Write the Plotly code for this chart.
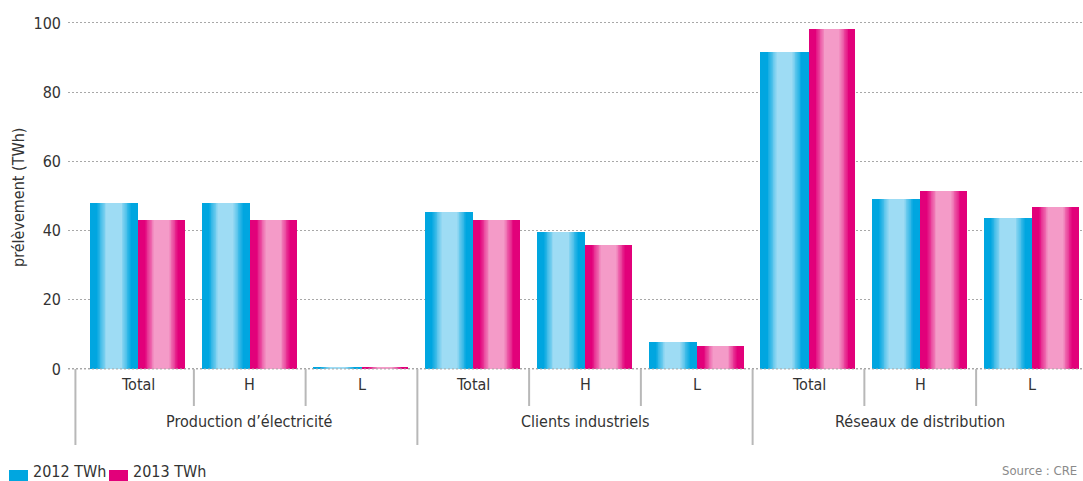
import numpy as np
import plotly.graph_objects as go

# --- data -------------------------------------------------------------
groups = ["Production d’électricité", "Clients industriels", "Réseaux de distribution"]
categories = ["Total", "H", "L", "Total", "H", "L", "Total", "H", "L"]
values_2012 = [48.0, 48.0, 0.3, 45.4, 39.6, 7.8, 91.6, 49.1, 43.6]
values_2013 = [43.1, 43.1, 0.3, 43.1, 35.8, 6.6, 98.3, 51.4, 46.8]
series_names = ["2012 TWh", "2013 TWh"]
y_ticks = [0, 20, 40, 60, 80, 100]
y_title = "prélèvement (TWh)"
source_text = "Source : CRE"

# --- layout constants -------------------------------------------------
W, H = 1083, 481
M_L, M_R, M_T, M_B = 68, 0, 16, 111
X_RANGE = [-0.6264, 8.4564]
Y_RANGE = [-0.3, 102]
FONT = "Liberation Sans Narrow, DejaVu Sans Condensed, Arial Narrow, sans-serif"
TEXT = "#333333"
SEP = "#b8b8b8"
GRID = "#a8a8a8"
GRID_DASH = "2px,2px"

PLOT_W = W - M_L - M_R
PLOT_H = H - M_T - M_B


def paper_x(p):
    return (p - M_L) / PLOT_W


def paper_y(p):
    return (H - M_B - p) / PLOT_H


# colours: edge tone and centre highlight of each series
edge = [(0, 166, 224), (226, 0, 122)]
core = [(158, 220, 244), (244, 155, 200)]
# bar placement inside each category (offset, width) in category units
bar_geom = [(-0.43, 0.43), (0.0, 0.42)]

x = list(range(len(categories)))
series_values = [values_2012, values_2013]

fig = go.Figure()

# each bar is built from nested layers to give a cylinder-like shading
insets = [0.0] + list(np.linspace(0.15, 0.34, 12))
mix = [0.0] + list(np.linspace(0.08, 1.0, 12))


def rgb(c0, c1, f):
    return "rgb(%d,%d,%d)" % tuple(round(a + (b - a) * f) for a, b in zip(c0, c1))


for s, vals in enumerate(series_values):
    off, wd = bar_geom[s]
    for t, f in zip(insets, mix):
        fig.add_trace(go.Bar(
            x=x, y=vals,
            offset=off + wd * t,
            width=wd * (1 - 2 * t),
            marker=dict(color=rgb(edge[s], core[s], f), line=dict(width=0)),
            name=series_names[s],
            showlegend=False,
            hoverinfo="skip" if t > 0 else None,
        ))

shapes = []
annotations = []

# baseline dots drawn over the bars
shapes.append(dict(type="line", xref="paper", yref="y", x0=0, x1=1, y0=0, y1=0,
                   layer="above", line=dict(color=GRID, width=1, dash=GRID_DASH)))

# category separators below the axis
inner_bounds = [0.5, 1.5, 3.5, 4.5, 6.5, 7.5]
group_bounds = [-0.56, 2.5, 5.5, 8.5]
for b in inner_bounds:
    shapes.append(dict(type="line", xref="x", yref="paper", x0=b, x1=b,
                       y0=paper_y(369), y1=paper_y(406),
                       line=dict(color=SEP, width=2)))
for b in group_bounds:
    shapes.append(dict(type="line", xref="x", yref="paper", x0=b, x1=b,
                       y0=paper_y(369), y1=paper_y(445),
                       line=dict(color=SEP, width=2)))

# category and group labels
for i, c in enumerate(categories):
    annotations.append(dict(x=i, y=paper_y(385), xref="x", yref="paper",
                            text=c, showarrow=False, yanchor="middle",
                            font=dict(family=FONT, size=16, color=TEXT)))
for g, name in enumerate(groups):
    annotations.append(dict(x=3 * g + 1, y=paper_y(421), xref="x", yref="paper",
                            text=name, showarrow=False, yanchor="middle",
                            font=dict(family=FONT, size=16, color=TEXT)))

# y-axis title
annotations.append(dict(x=paper_x(18), y=paper_y(198), xref="paper", yref="paper",
                        text=y_title, textangle=-90, showarrow=False,
                        xanchor="center", yanchor="middle",
                        font=dict(family=FONT, size=16, color=TEXT)))

# legend
legend_items = [(9, 28, 31), (109, 128, 131)]
for s, (a, b, tx) in enumerate(legend_items):
    shapes.append(dict(type="rect", xref="paper", yref="paper",
                       x0=paper_x(a), x1=paper_x(b), y0=paper_y(470), y1=paper_y(490),
                       fillcolor=rgb(edge[s], edge[s], 0), line=dict(width=0)))
    annotations.append(dict(x=paper_x(tx), y=paper_y(471), xref="paper", yref="paper",
                            text=series_names[s], showarrow=False,
                            xanchor="left", yanchor="middle",
                            font=dict(family=FONT, size=16, color=TEXT)))

# source
annotations.append(dict(x=paper_x(1000), y=paper_y(470), xref="paper", yref="paper",
                        text=source_text, showarrow=False,
                        xanchor="left", yanchor="middle",
                        font=dict(family=FONT, size=13, color="#8a8a8a")))

fig.update_layout(
    width=W, height=H,
    margin=dict(l=M_L, r=M_R, t=M_T, b=M_B, pad=0),
    paper_bgcolor="white", plot_bgcolor="white",
    barmode="overlay",
    bargap=0,
    showlegend=False,
    shapes=shapes,
    annotations=annotations,
    xaxis=dict(range=X_RANGE, showgrid=False, zeroline=False, showline=False,
               showticklabels=False, ticks="", fixedrange=True),
    yaxis=dict(range=Y_RANGE, tickvals=y_ticks, showgrid=True,
               gridcolor=GRID, griddash=GRID_DASH, gridwidth=1,
               zeroline=False, showline=False, ticks="",
               ticklabelstandoff=6,
               tickfont=dict(family=FONT, size=16, color=TEXT), fixedrange=True),
)

fig.write_html("out.html")
